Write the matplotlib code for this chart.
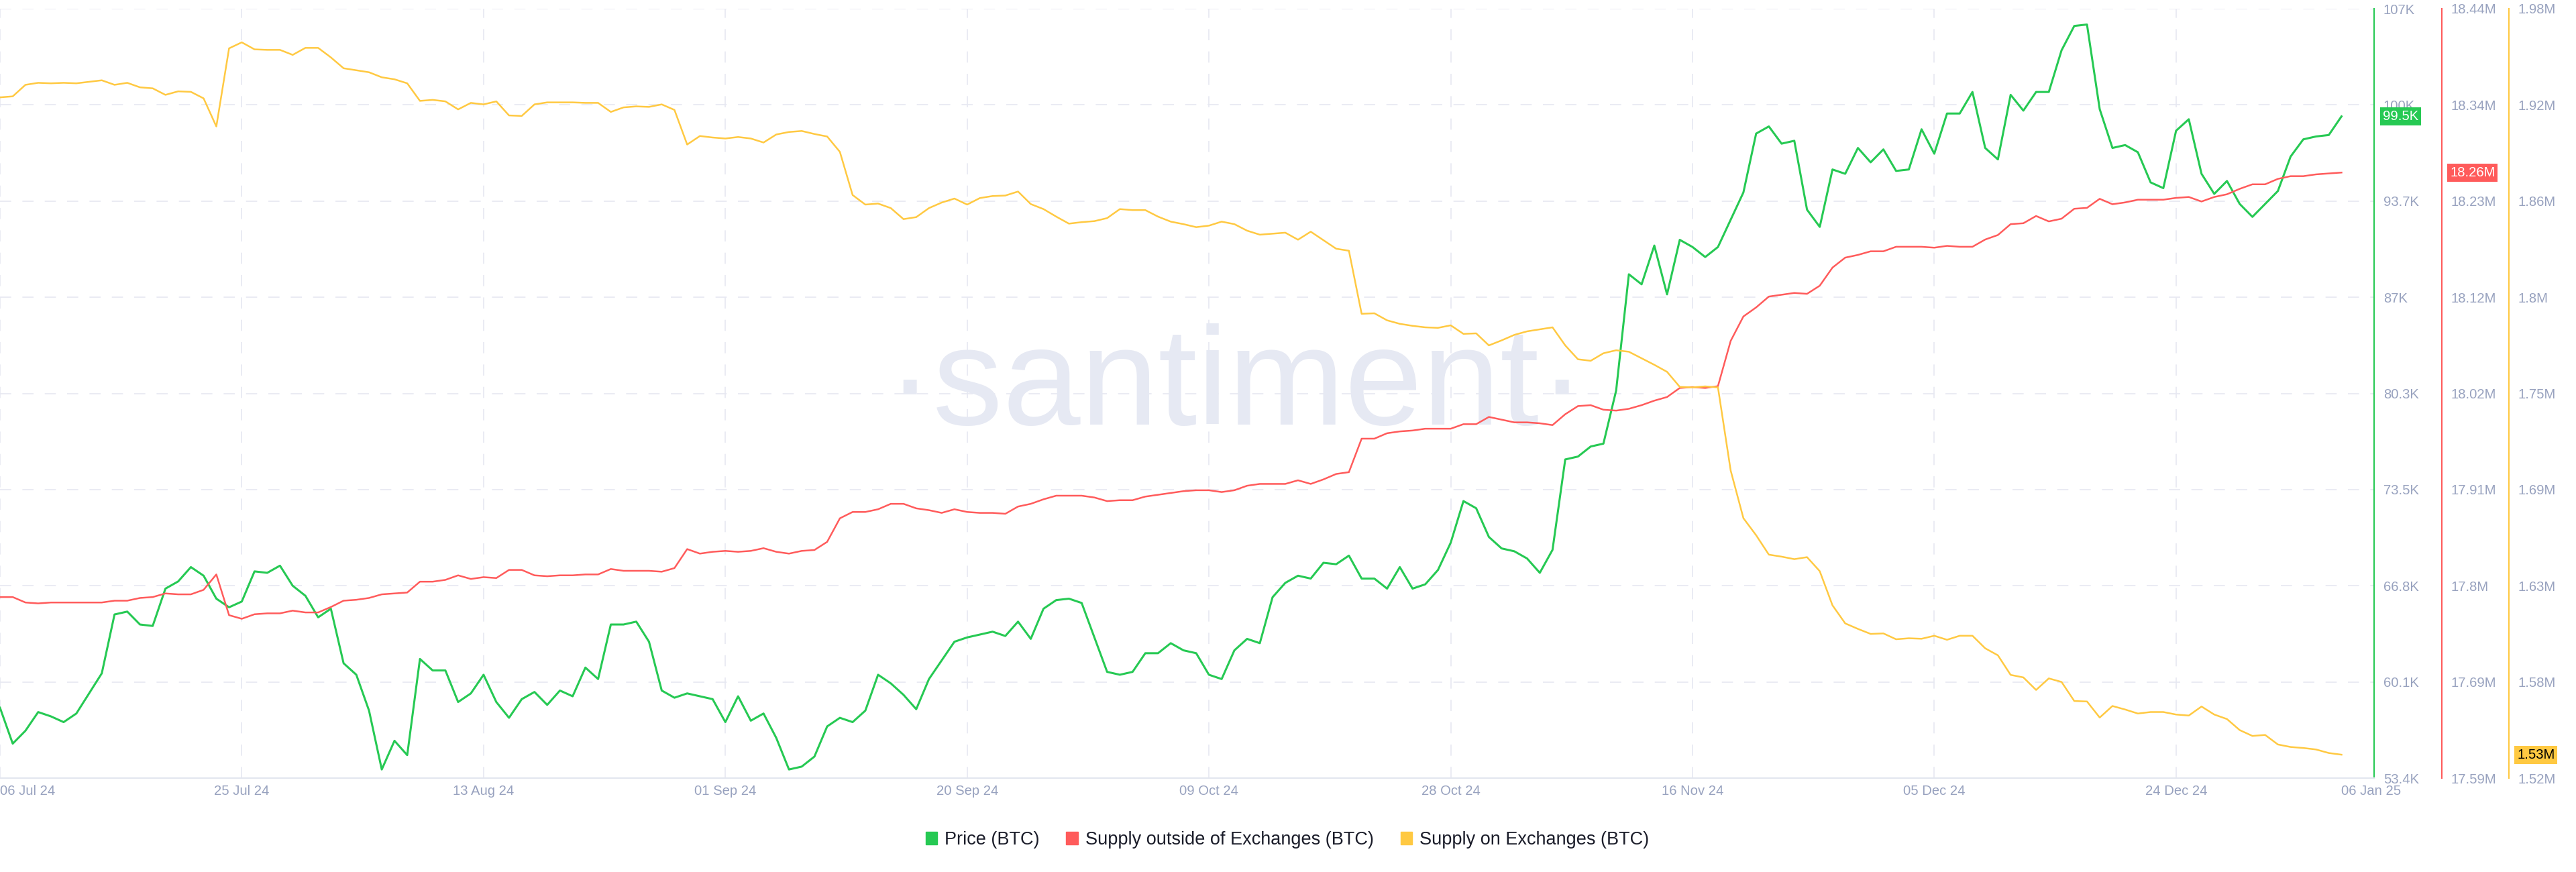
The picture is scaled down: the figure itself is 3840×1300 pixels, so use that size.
import numpy as np
import pandas as pd
import matplotlib
matplotlib.use('Agg')
import matplotlib.pyplot as plt
import matplotlib.dates as mdates
from matplotlib import font_manager as fm
from matplotlib.patches import Patch

# daily values, 06 Jul 24 .. 06 Jan 25
dates = pd.date_range('2024-07-06', '2025-01-06', freq='D')

price = [58.3, 55.8, 56.7, 58.0, 57.7, 57.3, 57.9, 59.3, 60.7, 64.8,
         65.0, 64.1, 64.0, 66.6, 67.1, 68.1, 67.5, 65.9, 65.3, 65.7,
         67.8, 67.7, 68.2, 66.8, 66.1, 64.6, 65.2, 61.4, 60.6, 58.1,
         54.0, 56.0, 55.0, 61.7, 60.9, 60.9, 58.7, 59.3, 60.6, 58.7,
         57.6, 58.9, 59.4, 58.5, 59.5, 59.1, 61.1, 60.3, 64.1, 64.1,
         64.3, 62.9, 59.5, 59.0, 59.3, 59.1, 58.9, 57.3, 59.1, 57.4,
         57.9, 56.2, 54.0, 54.2, 54.9, 57.0, 57.6, 57.3, 58.1, 60.6,
         60.0, 59.2, 58.2, 60.3, 61.6, 62.9, 63.2, 63.4, 63.6, 63.3,
         64.3, 63.1, 65.2, 65.8, 65.9, 65.6, 63.2, 60.8, 60.6, 60.8,
         62.1, 62.1, 62.8, 62.3, 62.1, 60.6, 60.3, 62.3, 63.1, 62.8,
         66.0, 67.0, 67.5, 67.3, 68.4, 68.3, 68.9, 67.3, 67.3, 66.6,
         68.1, 66.6, 66.9, 67.9, 69.8, 72.7, 72.2, 70.2, 69.4, 69.2,
         68.7, 67.7, 69.3, 75.6, 75.8, 76.5, 76.7, 80.4, 88.5, 87.8,
         90.5, 87.1, 90.9, 90.4, 89.7, 90.4, 92.3, 94.2, 98.3, 98.8,
         97.6, 97.8, 93.0, 91.8, 95.8, 95.5, 97.3, 96.3, 97.2, 95.7,
         95.8, 98.6, 96.9, 99.7, 99.7, 101.2, 97.3, 96.5, 101.0, 99.9,
         101.2, 101.2, 104.1, 105.8, 105.9, 100.0, 97.3, 97.5, 97.0, 94.9,
         94.5, 98.5, 99.3, 95.5, 94.1, 95.0, 93.4, 92.5, 93.4, 94.3,
         96.7, 97.9, 98.1, 98.2, 99.5]                                  # price, thousand USD

supply_out = [17.790, 17.790, 17.784, 17.783, 17.784, 17.784, 17.784, 17.784, 17.784, 17.786,
              17.786, 17.789, 17.790, 17.794, 17.793, 17.793, 17.798, 17.815, 17.770, 17.766,
              17.771, 17.772, 17.772, 17.775, 17.773, 17.773, 17.779, 17.786, 17.787, 17.789,
              17.793, 17.794, 17.795, 17.807, 17.807, 17.809, 17.814, 17.810, 17.812, 17.811,
              17.820, 17.820, 17.814, 17.813, 17.814, 17.814, 17.815, 17.815, 17.821, 17.819,
              17.819, 17.819, 17.818, 17.822, 17.843, 17.838, 17.840, 17.841, 17.840, 17.841,
              17.844, 17.840, 17.838, 17.841, 17.842, 17.851, 17.877, 17.884, 17.884, 17.887,
              17.893, 17.893, 17.888, 17.886, 17.883, 17.887, 17.884, 17.883, 17.883, 17.882,
              17.890, 17.893, 17.898, 17.902, 17.902, 17.902, 17.900, 17.896, 17.897, 17.897,
              17.901, 17.903, 17.905, 17.907, 17.908, 17.908, 17.906, 17.908, 17.913, 17.915,
              17.915, 17.915, 17.919, 17.915, 17.920, 17.926, 17.928, 17.965, 17.965, 17.971,
              17.973, 17.974, 17.976, 17.976, 17.976, 17.981, 17.981, 17.989, 17.986, 17.983,
              17.983, 17.982, 17.980, 17.992, 18.001, 18.002, 17.997, 17.996, 17.998, 18.002,
              18.007, 18.011, 18.021, 18.022, 18.021, 18.023, 18.073, 18.100, 18.110, 18.122,
              18.124, 18.126, 18.125, 18.134, 18.154, 18.165, 18.168, 18.172, 18.172, 18.177,
              18.177, 18.177, 18.176, 18.178, 18.177, 18.177, 18.185, 18.190, 18.202, 18.203,
              18.211, 18.205, 18.208, 18.219, 18.220, 18.230, 18.224, 18.226, 18.229, 18.229,
              18.229, 18.231, 18.232, 18.227, 18.232, 18.235, 18.241, 18.246, 18.246, 18.252,
              18.255, 18.255, 18.257, 18.258, 18.259]                   # million BTC

supply_on = [1.9270, 1.9276, 1.9345, 1.9357, 1.9354, 1.9357, 1.9354, 1.9363, 1.9372, 1.9345,
             1.9357, 1.9330, 1.9324, 1.9285, 1.9306, 1.9303, 1.9264, 1.9096, 1.9563, 1.9599,
             1.9557, 1.9554, 1.9554, 1.9524, 1.9566, 1.9566, 1.9509, 1.9444, 1.9432, 1.9420,
             1.9390, 1.9378, 1.9354, 1.9249, 1.9255, 1.9246, 1.9198, 1.9237, 1.9228, 1.9246,
             1.9162, 1.9159, 1.9228, 1.9240, 1.9240, 1.9240, 1.9237, 1.9237, 1.9183, 1.9210,
             1.9216, 1.9213, 1.9228, 1.9195, 1.8988, 1.9039, 1.9030, 1.9024, 1.9033, 1.9024,
             1.9000, 1.9048, 1.9063, 1.9069, 1.9051, 1.9036, 1.8944, 1.8686, 1.8629, 1.8635,
             1.8608, 1.8542, 1.8554, 1.8608, 1.8641, 1.8665, 1.8629, 1.8668, 1.8680, 1.8683,
             1.8707, 1.8632, 1.8602, 1.8557, 1.8515, 1.8524, 1.8530, 1.8548, 1.8602, 1.8596,
             1.8596, 1.8557, 1.8527, 1.8512, 1.8494, 1.8503, 1.8527, 1.8512, 1.8473, 1.8449,
             1.8455, 1.8461, 1.8419, 1.8467, 1.8416, 1.8365, 1.8353, 1.7976, 1.7979, 1.7937,
             1.7916, 1.7904, 1.7895, 1.7892, 1.7907, 1.7856, 1.7859, 1.7787, 1.7817, 1.7850,
             1.7871, 1.7883, 1.7895, 1.7787, 1.7704, 1.7695, 1.7740, 1.7758, 1.7749, 1.7710,
             1.7671, 1.7629, 1.7539, 1.7536, 1.7542, 1.7536, 1.7039, 1.6754, 1.6652, 1.6536,
             1.6524, 1.6509, 1.6521, 1.6437, 1.6233, 1.6125, 1.6092, 1.6062, 1.6065, 1.6030,
             1.6036, 1.6033, 1.6051, 1.6027, 1.6051, 1.6051, 1.5976, 1.5934, 1.5817, 1.5802,
             1.5727, 1.5796, 1.5775, 1.5661, 1.5658, 1.5562, 1.5631, 1.5610, 1.5586, 1.5595,
             1.5595, 1.5580, 1.5574, 1.5628, 1.5580, 1.5553, 1.5487, 1.5452, 1.5458, 1.5401,
             1.5386, 1.5380, 1.5371, 1.5350, 1.5340]                    # million BTC

xtick_dates = ['2024-07-06', '2024-07-25', '2024-08-13', '2024-09-01', '2024-09-20', '2024-10-09',
               '2024-10-28', '2024-11-16', '2024-12-05', '2024-12-24', '2025-01-06']
xtick_labels = ['06 Jul 24', '25 Jul 24', '13 Aug 24', '01 Sep 24', '20 Sep 24', '09 Oct 24',
                '28 Oct 24', '16 Nov 24', '05 Dec 24', '24 Dec 24', '06 Jan 25']
price_ticks = ['53.4K', '60.1K', '66.8K', '73.5K', '80.3K', '87K', '93.7K', '100K', '107K']
out_ticks = ['17.59M', '17.69M', '17.8M', '17.91M', '18.02M', '18.12M', '18.23M', '18.34M', '18.44M']
on_ticks = ['1.52M', '1.58M', '1.63M', '1.69M', '1.75M', '1.8M', '1.86M', '1.92M', '1.98M']

GREEN, RED, YELLOW = '#26c953', '#ff5b5b', '#ffc942'
TICK, GRID = '#98a2bf', '#e6e8f1'

plt.rcParams['font.family'] = ['Liberation Sans', 'DejaVu Sans']

fig = plt.figure(figsize=(38.4, 13), dpi=100)
ax = fig.add_axes([0, 140 / 1300, 3539 / 3840, 1147 / 1300])
ax2 = ax.twinx()
ax3 = ax.twinx()

# watermark
names = {f.name for f in fm.fontManager.ttflist}
wm_font, wm_size = ('Liberation Sans Narrow', 183) if 'Liberation Sans Narrow' in names else ('Liberation Sans', 150)
ax.text(0.5205, 0.4595, '\u00b7santiment\u00b7', transform=ax.transAxes, ha='center', va='baseline',
        fontsize=wm_size, family=wm_font, color='#e6e9f3', zorder=0.6)

ax.plot(dates, price, color=GREEN, lw=2.2, zorder=3)
ax2.plot(dates, supply_out, color=RED, lw=1.8)
ax3.plot(dates, supply_on, color=YELLOW, lw=1.8)

ax.set_xlim(mdates.date2num(dates[0]), mdates.date2num(dates[0]) + 186.56)
ax.set_ylim(53.4, 107)
ax2.set_ylim(17.59, 18.44)
ax3.set_ylim(1.52, 1.98)

# right hand axes, side by side
for a, labels, col, off in [(ax, price_ticks, GREEN, 0), (ax2, out_ticks, RED, 72.4), (ax3, on_ticks, YELLOW, 144.7)]:
    lo, hi = a.get_ylim()
    a.yaxis.tick_right()
    a.set_yticks(np.linspace(lo, hi, 9))
    a.set_yticklabels(labels)
    a.tick_params(axis='y', length=0, pad=10, labelsize=14.6, labelcolor=TICK)
    for s in ['left', 'top', 'bottom']:
        a.spines[s].set_visible(False)
    a.spines['right'].set_color(col)
    a.spines['right'].set_linewidth(1.5)
    a.spines['right'].set_position(('outward', off))

ax.spines['bottom'].set_visible(True)
ax.spines['bottom'].set_color('#e3e6ef')
ax.spines['bottom'].set_linewidth(1.6)

ax.set_xticks(mdates.date2num(pd.to_datetime(xtick_dates)))
ax.set_xticklabels(xtick_labels)
ax.tick_params(axis='x', length=0, pad=7, labelsize=14.6, labelcolor=TICK)
xl = ax.get_xticklabels()
xl[0].set_ha('left')
xl[-1].set_ha('left')

ax.set_axisbelow(True)
ax.grid(True, color=GRID, lw=1.2, linestyle=(0, (10, 10)))
ax.xaxis.get_major_ticks()[-1].gridline.set_visible(False)

# latest value badges
badges = [(ax, price[-1], f'{price[-1]:.1f}K', GREEN, 'white', 9.4),
          (ax2, supply_out[-1], f'{supply_out[-1]:.2f}M', RED, 'white', 81.4),
          (ax3, supply_on[-1], f'{supply_on[-1]:.2f}M', YELLOW, 'black', 153.4)]
for a, v, txt, col, tc, off in badges:
    a.annotate(txt, xy=(1, v), xycoords=a.get_yaxis_transform(), xytext=(off, 0),
               textcoords='offset points', ha='left', va='center', fontsize=14.6, color=tc,
               bbox=dict(boxstyle='square,pad=0.2', fc=col, ec='none'), annotation_clip=False, zorder=10)

handles = [Patch(color=GREEN, label='Price (BTC)'),
           Patch(color=RED, label='Supply outside of Exchanges (BTC)'),
           Patch(color=YELLOW, label='Supply on Exchanges (BTC)')]
fig.legend(handles=handles, loc='center', bbox_to_anchor=(0.4997, 1 - 1252 / 1300), ncol=3, frameon=False,
           fontsize=19.5, handlelength=0.65, handleheight=0.65, handletextpad=0.4, columnspacing=1.47,
           labelcolor='#1b1d2a')

fig.savefig('out.png', dpi=100)
